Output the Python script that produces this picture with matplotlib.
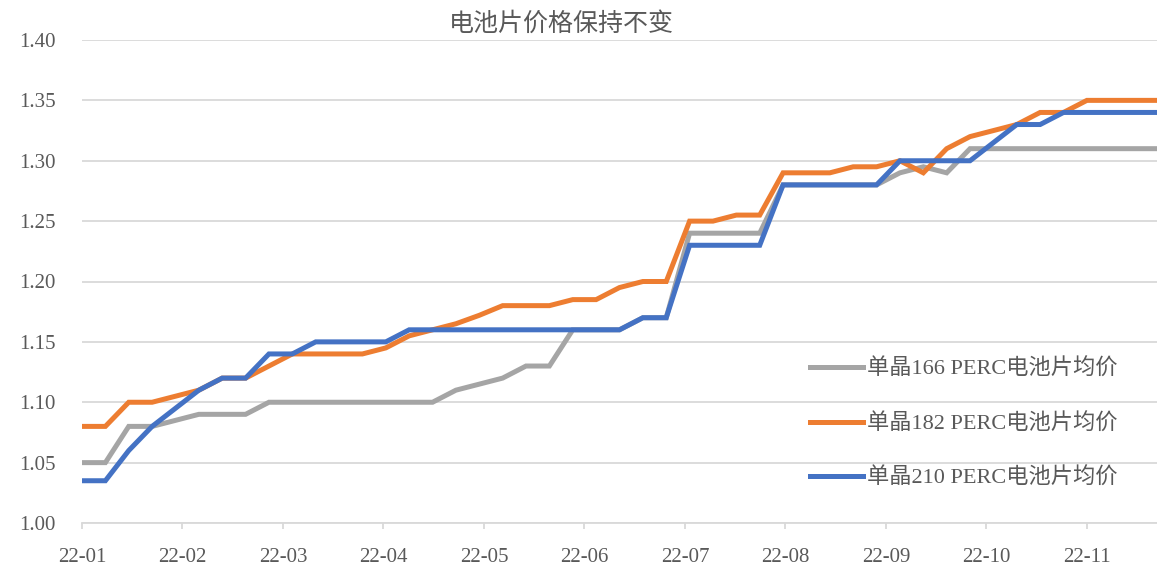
import matplotlib

matplotlib.use("Agg")
import matplotlib.pyplot as plt
import numpy as np

# weekly average cell prices (yuan/W), Jan-Nov 2022
P166 = [1.05, 1.05, 1.08, 1.08, 1.085, 1.09, 1.09, 1.09, 1.10, 1.10,
        1.10, 1.10, 1.10, 1.10, 1.10, 1.10, 1.11, 1.115, 1.12, 1.13,
        1.13, 1.16, 1.16, 1.16, 1.17, 1.17, 1.24, 1.24, 1.24, 1.24,
        1.28, 1.28, 1.28, 1.28, 1.28, 1.29, 1.295, 1.29, 1.31, 1.31,
        1.31, 1.31, 1.31, 1.31, 1.31, 1.31, 1.31]
P182 = [1.08, 1.08, 1.10, 1.10, 1.105, 1.11, 1.12, 1.12, 1.13, 1.14,
        1.14, 1.14, 1.14, 1.145, 1.155, 1.16, 1.165, 1.172, 1.18, 1.18,
        1.18, 1.185, 1.185, 1.195, 1.20, 1.20, 1.25, 1.25, 1.255, 1.255,
        1.29, 1.29, 1.29, 1.295, 1.295, 1.30, 1.29, 1.31, 1.32, 1.325,
        1.33, 1.34, 1.34, 1.35, 1.35, 1.35, 1.35]
P210 = [1.035, 1.035, 1.06, 1.08, 1.095, 1.11, 1.12, 1.12, 1.14, 1.14,
        1.15, 1.15, 1.15, 1.15, 1.16, 1.16, 1.16, 1.16, 1.16, 1.16,
        1.16, 1.16, 1.16, 1.16, 1.17, 1.17, 1.23, 1.23, 1.23, 1.23,
        1.28, 1.28, 1.28, 1.28, 1.28, 1.30, 1.30, 1.30, 1.30, 1.315,
        1.33, 1.33, 1.34, 1.34, 1.34, 1.34, 1.34]
SERIES = ["单晶166 PERC电池片均价", "单晶182 PERC电池片均价", "单晶210 PERC电池片均价"]
MONTHS = ["22-01", "22-02", "22-03", "22-04", "22-05", "22-06",
          "22-07", "22-08", "22-09", "22-10", "22-11"]
TITLE = "电池片价格保持不变"

COLORS = ["#A5A5A5", "#ED7D31", "#4472C4"]
TXT = "#595959"
GRID = "#D9D9D9"
FONT = ["Liberation Serif", "Noto Sans CJK SC"]

plt.rcParams["font.family"] = FONT

W, H = 1157, 566
fig = plt.figure(figsize=(W / 100, H / 100), dpi=100)
ax = fig.add_axes([82 / W, 1 - 523 / H, 1 - 82 / W, (523 - 40) / H])

x = np.arange(len(P166))
for vals, lab, c in zip([P166, P182, P210], SERIES, COLORS):
    ax.plot(x, vals, color=c, lw=3.6, label=lab, solid_joinstyle="miter")

ax.set_xlim(0, len(x) - 1)
ax.set_ylim(1.0, 1.40)
ax.set_yticks(np.arange(1.0, 1.401, 0.05))
ax.set_yticklabels([f"{v:.2f}" for v in np.arange(1.0, 1.401, 0.05)])
ax.set_xticks(np.arange(len(MONTHS)) * 4.3)
ax.set_xticklabels(MONTHS)

ax.grid(axis="y", color=GRID, lw=1.3)
ax.set_axisbelow(True)
for s in ["top", "right", "left"]:
    ax.spines[s].set_visible(False)
ax.spines["bottom"].set_color(GRID)
ax.spines["bottom"].set_linewidth(1.3)
ax.tick_params(axis="y", length=0, pad=19, labelsize=15, labelcolor=TXT)
ax.tick_params(axis="x", length=4, width=1.3, color=GRID, direction="out",
               pad=14, labelsize=15, labelcolor=TXT)

fig.text(561 / W, 1 - 24 / H, TITLE, ha="center", va="center",
         fontsize=18, color=TXT)

leg = ax.legend(loc="center left", bbox_to_anchor=(810 / W, 1 - 424 / H),
                bbox_transform=fig.transFigure, frameon=False, fontsize=16,
                handlelength=2.4, handletextpad=0.15, labelspacing=1.5,
                borderpad=0, borderaxespad=0, labelcolor=TXT)

fig.savefig("out.png", dpi=100)
